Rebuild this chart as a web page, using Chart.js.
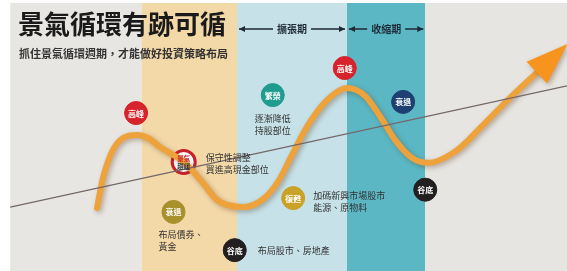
<!DOCTYPE html>
<html lang="zh-Hant">
<head>
    <meta charset="utf-8">
    <title>景氣循環有跡可循</title>
    <style>
        body { margin: 0; background: #ffffff; }
        #wrap { width: 567px; height: 271px; }
    </style>
</head>
<body>
    <div id="wrap"><canvas id="myChart" width="567" height="271"></canvas></div>
    <script src="https://cdn.jsdelivr.net/npm/chart.js"></script>
    <script>
        // Phase bands along the time axis (0-100)
        const bandEdges = [1.8, 25.0, 41.8, 61.2, 75.0, 100]
        const bandNames = ['', '', '擴張期', '收縮期', '']

        // Business cycle curve (time, level)
        const cycleX = [17.1, 18.2, 19.9, 21.7, 24.2, 26.1, 28.2, 32.6, 35.8, 38.3, 42.9, 46.2, 48.9, 51.5, 54.1, 57.7, 61.2, 64.4, 67.0, 69.7, 72.7, 75.5, 80.6, 84.7, 89.9, 95.2]
        const cycleY = [23.2, 34.7, 44.6, 49.1, 50.2, 49.1, 45.8, 39.9, 32.5, 26.2, 23.6, 26.2, 32.5, 42.8, 53.1, 63.1, 67.5, 64.6, 57.2, 48.3, 41.7, 39.9, 44.6, 52.8, 63.8, 74.2]

        // Long-term trend line
        const trendX = [1.8, 100]
        const trendY = [23.6, 68.3]

        // Stage markers
        const stageNames = ['高峰', '景氣|趨緩', '衰退', '谷底', '繁榮', '復甦', '高峰', '衰退', '谷底']
        const stageX = [24.0, 32.4, 30.6, 41.4, 48.1, 51.7, 60.8, 71.1, 75.0]
        const stageY = [58.3, 40.2, 21.8, 7.7, 64.9, 26.9, 74.9, 62.4, 30.0]
        const stageNotes = [
            [],
            ['保守性調整', '買進高現金部位'],
            ['布局債券、', '黃金'],
            ['布局股市、房地產'],
            ['逐漸降低', '持股部位'],
            ['加碼新興市場股市', '能源、原物料'],
            [],
            [],
            []
        ]

        const title = '景氣循環有跡可循'
        const subtitle = '抓住景氣循環週期，才能做好投資策略布局'

        // styles / layout
        const bandColors = ['#e8e6e2', '#f3d8a8', '#c6e1e7', '#5bb7c4', '#e7e5e1']
        const stageFill = ['#d7232b', '#ffffff', '#a8902a', '#231f20', '#1f9c8e', '#c9a227', '#d7232b', '#1d3f72', '#231f20']
        const stageBorder = ['#d7232b', '#c8202a', '#a8902a', '#231f20', '#1f9c8e', '#c9a227', '#d7232b', '#1d3f72', '#231f20']
        // note placement: [dx, dy of first line, align]
        const notePlace = [null, [22, -4, 'left'], [-15, 23, 'left'], [23, 0, 'left'], [0, 23, 'center'], [20, -3, 'left'], null, null, null]
        const FONT = '"Noto Sans CJK TC", "Noto Sans", sans-serif'

        const toPts = (xs, ys) => xs.map((x, i) => ({ x: x, y: ys[i] }))

        const backgroundPlugin = {
            id: 'bands',
            beforeDatasetsDraw(chart) {
                const { ctx, chartArea, scales } = chart
                ctx.save()
                const top = chartArea.top + 3
                for (let i = 0; i < bandEdges.length - 1; i++) {
                    const x0 = scales.x.getPixelForValue(bandEdges[i])
                    const x1 = scales.x.getPixelForValue(bandEdges[i + 1])
                    ctx.fillStyle = bandColors[i]
                    ctx.fillRect(x0, top, x1 - x0, chartArea.bottom - top)
                }
                // phase labels with arrows
                ctx.font = 'bold 10px ' + FONT
                ctx.textBaseline = 'middle'
                ctx.textAlign = 'center'
                ctx.strokeStyle = '#1e2a36'
                ctx.fillStyle = '#1e2a36'
                ctx.lineWidth = 1.3
                const ly = 29
                for (let i = 0; i < bandNames.length; i++) {
                    if (!bandNames[i]) continue
                    const x0 = scales.x.getPixelForValue(bandEdges[i]) + 2
                    const x1 = scales.x.getPixelForValue(bandEdges[i + 1]) - 2
                    const cx = (x0 + x1) / 2
                    const w = ctx.measureText(bandNames[i]).width / 2 + 4
                    ctx.beginPath()
                    ctx.moveTo(x0, ly); ctx.lineTo(cx - w, ly)
                    ctx.moveTo(cx + w, ly); ctx.lineTo(x1, ly)
                    ctx.stroke()
                    ctx.beginPath()
                    ctx.moveTo(x0, ly); ctx.lineTo(x0 + 6, ly - 3); ctx.lineTo(x0 + 6, ly + 3); ctx.closePath()
                    ctx.moveTo(x1, ly); ctx.lineTo(x1 - 6, ly - 3); ctx.lineTo(x1 - 6, ly + 3); ctx.closePath()
                    ctx.fill()
                    ctx.fillText(bandNames[i], cx, ly)
                }
                // titles
                ctx.textAlign = 'left'
                ctx.fillStyle = '#1a1a1a'
                ctx.font = 'bold 26px ' + FONT
                ctx.fillText(title, 18, 24)
                ctx.font = 'bold 11px ' + FONT
                ctx.fillStyle = '#333333'
                ctx.fillText(subtitle, 19, 54)
                ctx.restore()
            }
        }

        const curvePlugin = {
            id: 'curveFx',
            beforeDatasetDraw(chart, args) {
                if (args.index !== 1) return
                const ctx = chart.ctx
                ctx.save()
                ctx.shadowColor = 'rgba(80,50,20,0.35)'
                ctx.shadowBlur = 5
                ctx.shadowOffsetX = 2
                ctx.shadowOffsetY = 2
            },
            afterDatasetDraw(chart, args) {
                if (args.index !== 1) return
                const ctx = chart.ctx
                // arrow head at the end of the curve
                const pts = chart.getDatasetMeta(1).data
                const a = pts[pts.length - 2], b = pts[pts.length - 1]
                const dx = b.x - a.x, dy = b.y - a.y
                const len = Math.sqrt(dx * dx + dy * dy)
                const ux = dx / len, uy = dy / len
                const tipX = b.x + ux * 38, tipY = b.y + uy * 38
                const bx = b.x - ux * 4, by = b.y - uy * 4
                ctx.fillStyle = '#f7941d'
                ctx.beginPath()
                ctx.moveTo(tipX, tipY)
                ctx.lineTo(bx - uy * 15, by + ux * 15)
                ctx.lineTo(bx + uy * 15, by - ux * 15)
                ctx.closePath()
                ctx.fill()
                ctx.restore()
            }
        }

        const labelPlugin = {
            id: 'stageLabels',
            afterDatasetsDraw(chart) {
                const { ctx } = chart
                const pts = chart.getDatasetMeta(3).data
                ctx.save()
                ctx.textBaseline = 'middle'
                pts.forEach((p, i) => {
                    const name = stageNames[i].split('|')
                    if (name.length === 1) {
                        ctx.font = 'bold 8px ' + FONT
                        ctx.fillStyle = '#ffffff'
                        ctx.textAlign = 'center'
                        ctx.fillText(name[0], p.x, p.y + 0.5)
                    } else {
                        ctx.font = 'bold 6.5px ' + FONT
                        ctx.textAlign = 'center'
                        ctx.fillStyle = '#c8202a'
                        ctx.fillText(name[0], p.x, p.y - 3.5)
                        ctx.fillStyle = '#333333'
                        ctx.fillText(name[1], p.x, p.y + 4)
                    }
                    const place = notePlace[i]
                    if (!place) return
                    ctx.font = '9px ' + FONT
                    ctx.fillStyle = '#333333'
                    ctx.textAlign = place[2]
                    stageNotes[i].forEach((line, k) => {
                        ctx.fillText(line, p.x + place[0], p.y + place[1] + k * 12)
                    })
                })
                ctx.restore()
            }
        }

        const config = {
            type: 'scatter',
            data: {
                datasets: [
                    {
                        label: 'trend',
                        data: toPts(trendX, trendY),
                        showLine: true,
                        borderColor: '#74676a',
                        borderWidth: 1.2,
                        pointRadius: 0
                    },
                    {
                        label: 'cycle',
                        data: toPts(cycleX, cycleY),
                        showLine: true,
                        borderColor: '#eea23c',
                        borderWidth: 6,
                        borderCapStyle: 'round',
                        cubicInterpolationMode: 'monotone',
                        pointRadius: 0
                    },
                    {
                        label: 'cycle highlight',
                        data: toPts(cycleX, cycleY),
                        showLine: true,
                        borderColor: '#f6c46e',
                        borderWidth: 1.8,
                        cubicInterpolationMode: 'monotone',
                        pointRadius: 0
                    },
                    {
                        label: 'stages',
                        data: toPts(stageX, stageY),
                        showLine: false,
                        pointRadius: 11.5,
                        pointBackgroundColor: stageFill,
                        pointBorderColor: stageBorder,
                        pointBorderWidth: stageNames.map(n => n.indexOf('|') >= 0 ? 3 : 1)
                    }
                ]
            },
            options: {
                responsive: false,
                animation: false,
                layout: { padding: 0, autoPadding: false },
                scales: {
                    x: { type: 'linear', min: 0, max: 100, display: false },
                    y: { min: 0, max: 100, display: false }
                },
                plugins: {
                    legend: { display: false },
                    tooltip: { enabled: false }
                }
            },
            plugins: [backgroundPlugin, curvePlugin, labelPlugin]
        }
        const ctx = document.getElementById('myChart').getContext('2d')
        const chart_object = new Chart(ctx, config)
    </script>
</body>
</html>
